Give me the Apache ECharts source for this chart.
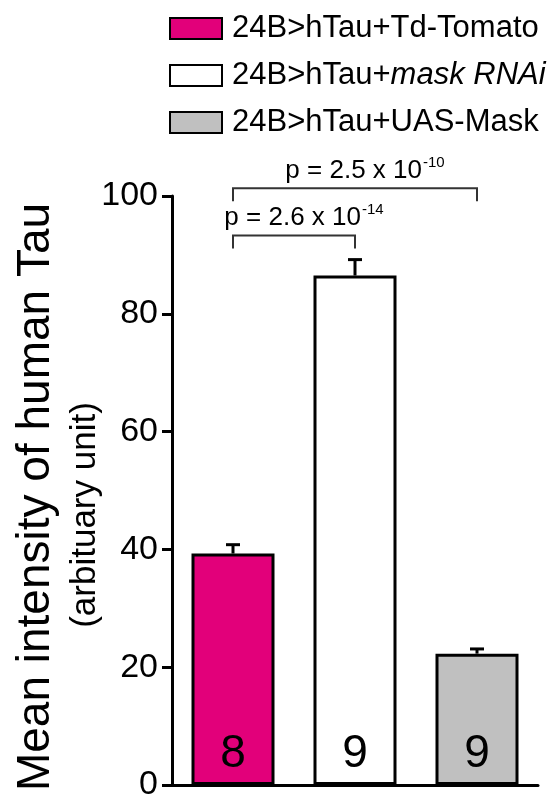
<!DOCTYPE html>
<html>
<head>
  <meta charset="UTF-8">
  <title>Mean intensity of human Tau</title>
  <script src="https://cdn.jsdelivr.net/npm/echarts@6/dist/echarts.min.js"></script>
  <style>
    html, body { margin: 0; padding: 0; width: 100%; height: 100%; background: #fff; }
    #main { width: 558px; height: 802px; }
  </style>
</head>
<body>
  <div id="main"></div>
  <script>
    const categories = ['24B>hTau+Td-Tomato', '24B>hTau+mask RNAi', '24B>hTau+UAS-Mask'];
    const means = [39.3, 86.5, 22.3];
    const errors = [1.5, 2.7, 0.8];
    const counts = ['8', '9', '9'];
    const colors = ['#e2007a', '#ffffff', '#c0c0c0'];
    const yTicks = [0, 20, 40, 60, 80, 100];

    // significance brackets
    const bracketFrom = [0, 0];
    const bracketTo = [1, 2];
    const bracketLevel = [93.3, 101.3];
    const pBase = ['p = 2.6 x 10', 'p = 2.5 x 10'];
    const pExp = ['-14', '-10'];

    const font = 'Liberation Sans';
    const chart = echarts.init(document.getElementById('main'));

    const barSeries = categories.map((name, i) => ({
      name: name,
      type: 'bar',
      barWidth: 83,
      barGap: '-100%',
      data: categories.map((c, j) => (j === i ? means[i] : '-')),
      itemStyle: { color: colors[i], borderColor: '#000', borderWidth: 3 },
      label: {
        show: true,
        position: 'insideBottom',
        distance: 8,
        formatter: () => counts[i],
        fontFamily: font,
        fontSize: 46,
        color: '#000'
      },
      z: 2
    }));

    const errorSeries = {
      type: 'custom',
      data: means.map((m, i) => [i, m, errors[i]]),
      z: 3,
      renderItem: function (params, api) {
        const base = api.coord([api.value(0), api.value(1)]);
        const top = api.coord([api.value(0), api.value(1) + api.value(2)]);
        const style = { stroke: '#000', lineWidth: 3 };
        return {
          type: 'group',
          children: [
            { type: 'line', shape: { x1: base[0], y1: base[1], x2: top[0], y2: top[1] }, style: style },
            { type: 'line', shape: { x1: top[0] - 7, y1: top[1], x2: top[0] + 7, y2: top[1] }, style: style }
          ]
        };
      }
    };

    const bracketSeries = {
      type: 'custom',
      clip: false,
      data: bracketFrom.map((f, i) => [f, bracketTo[i], bracketLevel[i], i]),
      z: 4,
      renderItem: function (params, api) {
        const k = api.value(3);
        const a = api.coord([api.value(0), api.value(2)]);
        const b = api.coord([api.value(1), api.value(2)]);
        const legA = api.coord([api.value(0), api.value(2) - 2.2]);
        const style = { stroke: '#333', lineWidth: 2, fill: null };
        return {
          type: 'group',
          children: [
            {
              type: 'polyline',
              shape: { points: [[a[0], legA[1]], a, b, [b[0], legA[1]]] },
              style: style
            },
            {
              type: 'text',
              style: {
                text: '{b|' + pBase[k] + '}{s|' + pExp[k] + '}',
                x: (a[0] + b[0]) / 2 + 10,
                y: a[1] - 5,
                align: 'center',
                verticalAlign: 'bottom',
                rich: {
                  b: { fontFamily: font, fontSize: 26, color: '#333', lineHeight: 28, verticalAlign: 'bottom' },
                  s: { fontFamily: font, fontSize: 15, color: '#333', lineHeight: 15, verticalAlign: 'top', padding: [0, 0, 0, 1] }
                }
              }
            }
          ]
        };
      }
    };

    const option = {
      animation: false,
      grid: { left: 172, right: 20, top: 196, bottom: 13 },
      legend: {
        orient: 'vertical',
        left: 164,
        top: 8,
        itemWidth: 52,
        itemHeight: 21,
        itemGap: 16,
        icon: 'rect',
        data: categories,
        formatter: function (name) {
          if (name.indexOf('mask RNAi') >= 0) return '24B>hTau+{i|mask RNAi}';
          return name;
        },
        textStyle: {
          fontFamily: font,
          fontSize: 31,
          color: '#000',
          padding: [0, 0, 0, 5],
          rich: { i: { fontFamily: font, fontSize: 31, fontStyle: 'italic', color: '#000' } }
        }
      },
      xAxis: {
        type: 'category',
        data: categories,
        axisLine: { lineStyle: { color: '#000', width: 3 } },
        axisTick: { show: false },
        axisLabel: { show: false }
      },
      yAxis: {
        type: 'value',
        min: 0,
        max: 100,
        interval: 20,
        splitLine: { show: false },
        axisLine: { show: true, lineStyle: { color: '#000', width: 3 } },
        axisTick: { show: true, length: 10, lineStyle: { color: '#000', width: 3 } },
        axisLabel: {
          margin: 14,
          fontFamily: font,
          fontSize: 34,
          color: '#000',
          formatter: v => (yTicks.indexOf(v) >= 0 ? String(v) : '')
        }
      },
      graphic: [
        {
          type: 'text',
          x: 36,
          y: 497,
          rotation: Math.PI / 2,
          style: {
            text: 'Mean intensity of human Tau',
            fontFamily: font,
            fontSize: 46,
            fill: '#000',
            align: 'center',
            verticalAlign: 'middle'
          }
        },
        {
          type: 'text',
          x: 85,
          y: 515,
          rotation: Math.PI / 2,
          style: {
            text: '(arbituary unit)',
            fontFamily: font,
            fontSize: 35,
            fill: '#000',
            align: 'center',
            verticalAlign: 'middle'
          }
        }
      ],
      series: barSeries.concat([errorSeries, bracketSeries])
    };

    chart.setOption(option);
  </script>
</body>
</html>
